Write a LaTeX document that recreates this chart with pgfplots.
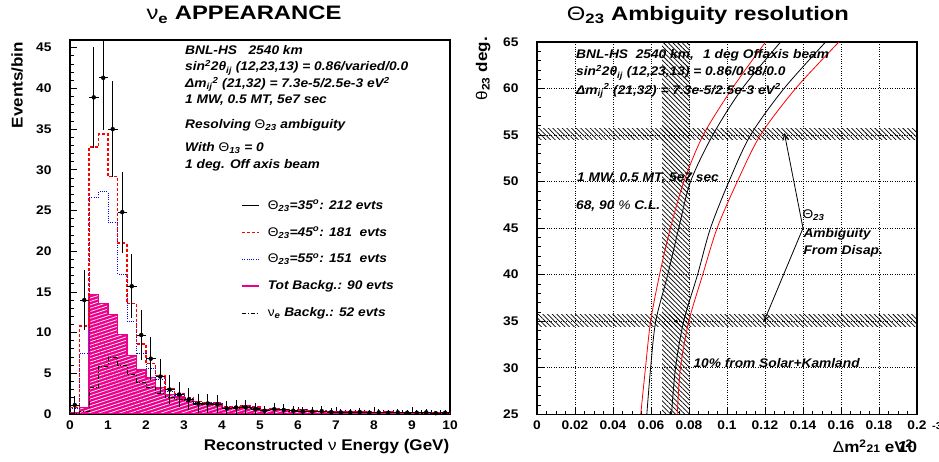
\documentclass[border=0pt]{standalone}
\usepackage{pgfplots}
\usepackage{pgfplotstable}
\pgfplotsset{compat=1.18}
\usepackage{fontspec}
\setmainfont{Liberation Sans}[FakeStretch=1.1]
\newfontfamily\titlefam{Liberation Sans}[FakeStretch=1.22]
\usetikzlibrary{patterns,patterns.meta,arrows.meta}
\newcommand{\tf}{\fontsize{12.5}{14}\selectfont\bfseries\itshape}
\newcommand{\lf}{\fontsize{15.5}{17}\selectfont\bfseries}
\newcommand{\ttf}{\titlefam\fontsize{19.5}{22}\selectfont\bfseries}

\pgfplotstableread{
x r45 b55 bkg nue
0 0.8 0.7 0.2 0.1
0.25 10.8 7.4 0.8 0.3
0.5 32.8 26.6 14.7 3.2
0.75 34.4 27.3 13.6 5.9
1.0 29.2 23.5 12.2 7.0
1.25 21.0 17.2 9.8 6.0
1.5 13.6 11.4 7.2 4.8
1.75 8.6 7.5 5.4 3.9
2.0 6.2 5.6 4.5 3.3
2.25 4.7 4.2 3.3 2.5
2.5 3.1 2.8 2.4 2.0
2.75 2.5 2.3 2.1 1.8
3.0 2.0 1.9 1.8 1.6
3.25 1.5 1.4 1.3 1.2
3.5 1.4 1.4 1.3 1.2
3.75 1.4 1.35 1.3 1.2
4.0 0.9 0.85 0.8 0.7
4.25 0.9 0.85 0.8 0.7
4.5 1.0 1.0 1.0 0.9
4.75 0.9 0.85 0.8 0.7
5.0 0.6 0.55 0.5 0.4
5.25 0.7 0.7 0.7 0.6
5.5 0.6 0.6 0.6 0.5
5.75 0.5 0.45 0.4 0.35
6.0 0.6 0.6 0.6 0.5
6.25 0.4 0.4 0.4 0.35
6.5 0.4 0.35 0.35 0.3
6.75 0.35 0.3 0.3 0.25
7.0 0.3 0.3 0.3 0.25
7.25 0.3 0.25 0.25 0.2
7.5 0.25 0.25 0.25 0.2
7.75 0.25 0.2 0.2 0.15
8.0 0.2 0.2 0.2 0.15
8.25 0.25 0.25 0.25 0.2
8.5 0.2 0.2 0.2 0.15
8.75 0.2 0.15 0.15 0.1
9.0 0.2 0.2 0.2 0.15
9.25 0.15 0.15 0.15 0.1
9.5 0.15 0.15 0.15 0.1
9.75 0.15 0.15 0.15 0.1
10 0.15 0.15 0.15 0.1
}\hist

\pgfplotstableread{
x y ex ey
0.125 1.1 0.125 1.05
0.375 14.0 0.125 3.74
0.625 38.9 0.125 6.24
0.875 41.3 0.125 6.43
1.125 35.0 0.125 5.92
1.375 24.8 0.125 4.98
1.625 15.7 0.125 3.96
1.875 9.7 0.125 3.11
2.125 6.8 0.125 2.61
2.375 4.6 0.125 2.14
2.625 3.0 0.125 1.73
2.875 2.4 0.125 1.55
3.125 1.8 0.125 1.34
3.375 1.3 0.125 1.14
3.625 1.3 0.125 1.14
3.875 1.2 0.125 1.10
4.125 0.7 0.125 0.84
4.375 0.8 0.125 0.89
4.625 0.8 0.125 0.89
4.875 0.6 0.125 0.77
5.125 0.4 0.125 0.63
5.375 0.6 0.125 0.77
5.625 0.5 0.125 0.71
5.875 0.4 0.125 0.63
6.125 0.3 0.125 0.55
6.375 0.3 0.125 0.55
6.625 0.35 0.125 0.59
6.875 0.25 0.125 0.50
7.125 0.2 0.125 0.45
7.375 0.2 0.125 0.45
7.625 0.25 0.125 0.50
7.875 0.15 0.125 0.39
8.125 0.2 0.125 0.45
8.375 0.15 0.125 0.39
8.625 0.2 0.125 0.45
8.875 0.15 0.125 0.39
9.125 0.15 0.125 0.39
9.375 0.2 0.125 0.45
9.625 0.1 0.125 0.32
9.875 0.15 0.125 0.39
}\pts

\pgfplotsset{
  rootaxis/.style={
    anchor=south west, scale only axis,
    tick align=inside, tick pos=left,
    major tick length=7pt, minor tick length=3.5pt,
    every tick/.style={black, line width=0.8pt},
    axis line style={line width=1.2pt},
    ticklabel style={font=\fontsize{12.5}{14}\selectfont\bfseries},
    yticklabel style={xshift=-15pt},
    xticklabel style={yshift=-3pt},
    scaled ticks=false,
  }
}

\begin{document}
\begin{tikzpicture}[x=1pt,y=1pt]
\useasboundingbox (0,0) rectangle (939,462);

% ---------------- left panel ----------------
\begin{axis}[rootaxis,
  at={(70pt,48pt)}, width=380pt, height=374pt,
  xmin=0, xmax=10, ymin=0, ymax=45.95,
  xtick={0,1,2,3,4,5,6,7,8,9,10}, xticklabels={0,1,2,3,4,5,6,7,8,9,10},
  ytick={0,5,10,15,20,25,30,35,40,45}, yticklabels={0,5,10,15,20,25,30,35,40,45},
  minor x tick num=3, minor y tick num=4,
  legend style={at={(0.45,0.578)}, anchor=north west, draw=none, fill=none,
    font=\tf, row sep=12.4pt, inner sep=0pt,
    /tikz/every odd column/.append style={column sep=6pt}},
  legend cell align=left,
]
\addplot[const plot, draw=magenta, line width=1.2pt, fill=magenta,
  postaction={pattern={Lines[angle=18, distance=3.2pt, line width=0.7pt]}, pattern color=white}, forget plot]
  table[x=x, y=bkg] {\hist} \closedcycle;
\addplot[const plot, black, line width=0.9pt, dash pattern=on 4pt off 2pt on 1pt off 2pt, forget plot]
  table[x=x, y=nue] {\hist};
\addplot[const plot, blue, line width=0.9pt, dash pattern=on 1pt off 1.3pt, forget plot]
  table[x=x, y=b55] {\hist};
\addplot[const plot, red, line width=1.2pt, dash pattern=on 3pt off 2pt, forget plot]
  table[x=x, y=r45] {\hist};
\addplot[black, only marks, mark=*, mark options={draw=none, fill=none}, forget plot,
  error bars/.cd, x dir=both, x explicit, y dir=both, y explicit, error mark=none,
  error bar style={line width=0.9pt, black, solid}]
  table[x=x, y=y, x error=ex, y error=ey] {\pts};

\addlegendimage{black, line width=0.9pt}
\addlegendentry{{\mdseries\upshape Θ}\textsubscript{23}=35\textsuperscript{o}: 212 evts}
\addlegendimage{red, line width=1.2pt, dash pattern=on 3pt off 2pt}
\addlegendentry{{\mdseries\upshape Θ}\textsubscript{23}=45\textsuperscript{o}: 181\ \ evts}
\addlegendimage{blue, line width=0.9pt, dash pattern=on 1pt off 1.3pt}
\addlegendentry{{\mdseries\upshape Θ}\textsubscript{23}=55\textsuperscript{o}: 151\ \ evts}
\addlegendimage{magenta, line width=1.5pt}
\addlegendentry{Tot Backg.: 90 evts}
\addlegendimage{black, line width=0.9pt, dash pattern=on 4pt off 2pt on 1pt off 2pt}
\addlegendentry{{\upshape\mdseries ν}\textsubscript{e} Backg.: 52 evts}
\end{axis}

% ---------------- right panel ----------------
\begin{axis}[rootaxis,
  at={(537pt,47.7pt)}, width=380pt, height=372.3pt,
  xmin=0, xmax=0.2, ymin=25, ymax=65,
  xtick={0,0.02,0.04,0.06,0.08,0.1,0.12,0.14,0.16,0.18,0.2},
  xticklabels={0,0.02,0.04,0.06,0.08,0.1,0.12,0.14,0.16,0.18,0.2},
  ytick={25,30,35,40,45,50,55,60,65}, yticklabels={25,30,35,40,45,50,55,60,65},
  minor x tick num=3, minor y tick num=4,
  grid=major, major grid style={black, dotted, line width=0.6pt},
]
\addplot[draw=none, pattern={Lines[angle=-45, distance=3.3pt, line width=0.75pt]}] coordinates {(0,54.5) (0.2,54.5) (0.2,55.7) (0,55.7)} -- cycle;
\addplot[draw=none, pattern={Lines[angle=-45, distance=3.3pt, line width=0.75pt]}] coordinates {(0,34.4) (0.2,34.4) (0.2,35.7) (0,35.7)} -- cycle;
\addplot[draw=none, pattern={Lines[angle=-45, distance=3.3pt, line width=0.75pt]}] coordinates {(0.0658,25) (0.0803,25) (0.0803,65) (0.0658,65)} -- cycle;

\addplot[red, smooth, line width=0.8pt] coordinates {
(0.0546,25) (0.0571,30) (0.0598,35) (0.0645,40) (0.0702,45) (0.0773,50) (0.0875,55) (0.1027,60) (0.1203,65)};
\addplot[black, smooth, line width=0.8pt] coordinates {
(0.0578,25) (0.0598,30) (0.0625,35) (0.0688,40) (0.0746,45) (0.0808,50) (0.0925,55) (0.1080,60) (0.1282,65)};
\addplot[black, smooth, line width=0.8pt] coordinates {
(0.0708,25) (0.0729,30) (0.0772,35) (0.0845,40) (0.0913,45) (0.1010,50) (0.1124,55) (0.1300,60) (0.1519,65)};
\addplot[red, smooth, line width=0.8pt] coordinates {
(0.0738,25) (0.0755,30) (0.0799,35) (0.0872,40) (0.0948,45) (0.1054,50) (0.1176,55) (0.1361,60) (0.1589,65)};

\addplot[black, only marks, mark=*, mark size=1.3pt] coordinates {(0.0733,35)};
\addplot[black, line width=0.8pt, -{Straight Barb[length=6pt,width=6pt]}] coordinates {(0.140,45) (0.1302,55.2)};
\addplot[black, line width=0.8pt, -{Straight Barb[length=6pt,width=6pt]}] coordinates {(0.140,45) (0.1195,35.0)};
\end{axis}

% ---------------- texts ----------------
\node[anchor=base, font=\ttf, inner sep=0] at (244,442) {{\mdseries ν}\textsubscript{e} APPEARANCE};
\node[anchor=base, font=\ttf, inner sep=0] at (708,441.3) {{\mdseries Θ}\textsubscript{23} Ambiguity resolution};

\node[rotate=90, anchor=base east, font=\lf, inner sep=0] at (22.5,420.3) {Events/bin};
\node[anchor=base east, font=\lf, inner sep=0] at (449.5,11) {Reconstructed {\mdseries ν} Energy (GeV)};
\node[rotate=90, anchor=base east, font=\lf, inner sep=0] at (487,425) {{\mdseries θ}\textsubscript{23} deg.};
\node[anchor=base east, font=\lf, inner sep=0] at (913,9.3) {{\mdseries Δ}m\textsuperscript{2}{\fontsize{11}{12}\selectfont 21} eV\textsuperscript{2}};
\node[anchor=base west, font=\lf, inner sep=0] at (898,9.3) {10};
\node[anchor=base west, font=\fontsize{10}{11}\selectfont\bfseries, inner sep=0] at (932,32) {-3};

\begin{scope}[every node/.style={anchor=base west, font=\tf, inner sep=0}]
\node at (185,407) {BNL-HS\ \ \ 2540 km};
\node at (185,391) {sin\textsuperscript{2}2θ\textsubscript{ij} (12,23,13) = 0.86/varied/0.0};
\node at (185,374.5) {Δm\textsubscript{ij}\textsuperscript{2} (21,32) = 7.3e-5/2.5e-3 eV\textsuperscript{2}};
\node at (185,358.5) {1 MW, 0.5 MT, 5e7 sec};
\node at (185,333) {Resolving {\mdseries\upshape Θ}\textsubscript{23} ambiguity};
\node at (185,310) {With {\mdseries\upshape Θ}\textsubscript{13} = 0};
\node at (185,293.5) {1 deg. Off axis beam};

\node at (576,403.7) {BNL-HS\ \ 2540 km,};
\node at (703,403.7) {1 deg Offaxis beam};
\node at (576,386) {sin\textsuperscript{2}2θ\textsubscript{ij} (12,23,13) = 0.86/0.88/0.0};
\node at (576,367.7) {Δm\textsubscript{ij}\textsuperscript{2} (21,32) = 7.3e-5/2.5e-3 eV\textsuperscript{2}};
\node at (577,280.3) {1 MW, 0.5 MT, 5e7 sec};
\node at (576,252.7) {68, 90 {\mdseries\%} C.L.};
\node at (802.3,243.7) {{\mdseries\upshape Θ}\textsubscript{23}};
\node at (803.3,224.7) {Ambiguity};
\node at (803.3,207) {From Disap.};
\node at (693.3,94.3) {10\% from Solar+Kamland};
\end{scope}
\end{tikzpicture}
\end{document}
